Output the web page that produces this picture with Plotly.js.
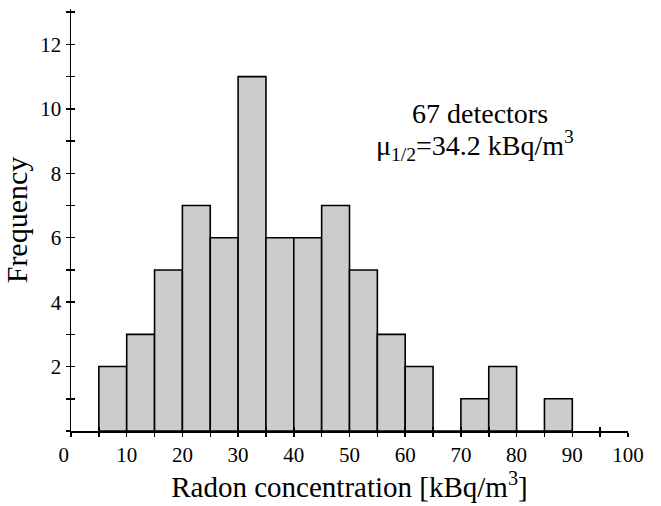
<!DOCTYPE html>
<html>
<head>
<meta charset="utf-8">
<script src="https://cdn.plot.ly/plotly-3.0.1.min.js"></script>
<style>html,body{margin:0;padding:0;background:#fff;}#chart{width:661px;height:506px;}</style>
</head>
<body>
<div id="chart"></div>
<script>
const binStarts = [5,10,15,20,25,30,35,40,45,50,55,60,65,70,75,80,85];
const counts    = [2,3,5,7,6,11,6,6,7,5,3,2,0,1,2,0,1];
const binWidth = 5;
const xTickVals = [0,10,20,30,40,50,60,70,80,90,100];
const xTickText = ['0\u2007\u2009','10','20','30','40','50','60','70','80','90','100'];
const yTickVals = [2,4,6,8,10,12];
const noteLines = ['67 detectors', 'μ<sub>1/2</sub>=34.2 kBq/m<sup>3</sup>'];

const centers = binStarts.map(s => s + binWidth/2);
const font = "Liberation Serif";

const barTrace = {
  type: 'bar',
  x: centers,
  y: counts,
  width: binStarts.map(() => binWidth),
  marker: {color: '#cccccc', line: {color: '#000', width: 1.6}},
  hoverinfo: 'none'
};
const overlayTrace = {type: 'scatter', x: [], y: [], xaxis: 'x2', yaxis: 'y2', hoverinfo: 'none'};

const tickStyle = {tickcolor: '#000', tickwidth: 1.5, ticklen: 4};

// pixel helpers for the text block (plot area: x 71..628, y 9..431)
const px = x => (x - 71) / 557;
const py = y => (431 - y) / 422;

const layout = {
  width: 661, height: 506,
  margin: {l: 71, r: 33, t: 9, b: 75},
  paper_bgcolor: '#fff', plot_bgcolor: 'rgba(0,0,0,0)',
  showlegend: false,
  bargap: 0,
  font: {family: font, color: '#000'},
  xaxis: Object.assign({
    range: [0, 100], showgrid: false, zeroline: false,
    showline: true, linecolor: '#000', linewidth: 1.5,
    tickmode: 'array', tickvals: xTickVals, ticktext: xTickText,
    ticks: 'outside',
    minor: {tickmode: 'linear', tick0: 0, dtick: 5, ticks: 'outside', ticklen: 4, tickwidth: 1.5, tickcolor: '#000', showgrid: false},
    tickfont: {family: font, size: 21},
    title: {text: 'Radon concentration [kBq/m<sup>3</sup>]', font: {family: font, size: 29}, standoff: 4}
  }, tickStyle),
  yaxis: Object.assign({
    range: [0, 13.1], showgrid: false, zeroline: false,
    showline: true, linecolor: '#000', linewidth: 1.5,
    tickmode: 'array', tickvals: yTickVals,
    ticks: 'outside',
    minor: {tickmode: 'linear', tick0: 0, dtick: 1, ticks: 'outside', ticklen: 4, tickwidth: 1.5, tickcolor: '#000', showgrid: false},
    tickfont: {family: font, size: 21},
    title: {text: 'Frequency', font: {family: font, size: 30}, standoff: 4}
  }, tickStyle),
  xaxis2: Object.assign({
    overlaying: 'x', anchor: 'y2', side: 'bottom',
    range: [0, 100], showgrid: false, zeroline: false, showline: false,
    tickmode: 'linear', tick0: 0, dtick: 5, ticks: 'inside', showticklabels: false
  }, tickStyle),
  yaxis2: Object.assign({
    overlaying: 'y', anchor: 'x2', side: 'left',
    range: [0, 13.1], showgrid: false, zeroline: false, showline: false,
    tickmode: 'linear', tick0: 0, dtick: 1, ticks: 'inside', showticklabels: false
  }, tickStyle),
  annotations: [
    {xref: 'paper', yref: 'paper', x: px(480), y: py(114), xanchor: 'center', yanchor: 'middle',
     text: noteLines[0], showarrow: false, font: {family: font, size: 28, color: '#000'}},
    {xref: 'paper', yref: 'paper', x: px(475), y: py(146), xanchor: 'center', yanchor: 'middle',
     text: noteLines[1], showarrow: false, font: {family: font, size: 28, color: '#000'}}
  ]
};

Plotly.newPlot('chart', [barTrace, overlayTrace], layout, {displayModeBar: false, staticPlot: true});
</script>
</body>
</html>
